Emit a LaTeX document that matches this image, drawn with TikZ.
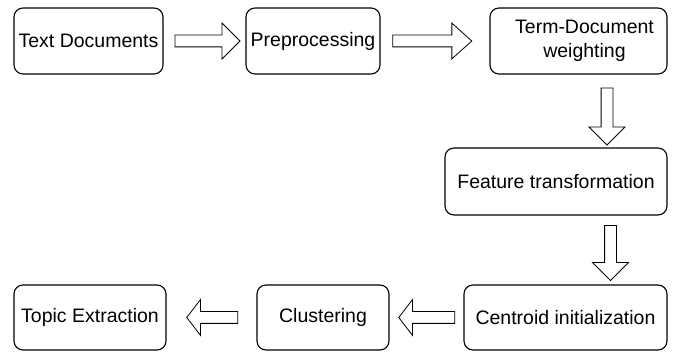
\documentclass[tikz,border=0pt]{standalone}
\usepackage{fontspec}
\setmainfont{Liberation Sans}
\usetikzlibrary{positioning, calc, shapes.arrows}

\begin{document}
\begin{tikzpicture}[x=1pt,y=1pt,font=\fontsize{19.5}{24}\selectfont]
      \tikzstyle{stage}=[draw, rounded corners=9pt, line width=1.1pt, minimum height=66pt,
                         inner sep=2pt, outer sep=0pt, align=center]
      \tikzstyle{flow}=[single arrow, draw, line width=0.8pt, inner sep=5.5pt,
                        single arrow head extend=12pt]

      \useasboundingbox (0,0) rectangle (673,-352);

      \node[stage, minimum width=149pt](txt) at (88.5,-41) {Text Documents};
      \node[stage, minimum width=134pt](pre)[right=83pt of txt] {Preprocessing};
      \node[stage, minimum width=177pt](term)[right=110pt of pre]
           {\hspace*{12pt}Term-Document\\\hspace*{12pt}weighting};
      \node[stage, minimum width=222pt, minimum height=67pt](feat)
           [below=74pt of term.south east, anchor=north east] {Feature transformation};
      \node[stage, minimum width=203pt, minimum height=65pt](cent)
           [below=70pt of feat.south east, anchor=north east] {Centroid initialization};
      \node[stage, minimum width=132pt, minimum height=65pt](clus)[left=75pt of cent] {Clustering};
      \node[stage, minimum width=152pt, minimum height=65pt](topic)[left=91pt of clus] {Topic Extraction};

      % hollow arrows between the stages
      \node[flow, minimum height=65pt](a1) at ($(txt.east)!.5!(pre.west)$) {};
      \node[flow, minimum height=79pt, single arrow tip angle=84](a2)
           at ($(pre.east)!.5!(term.west)+(-6,0)$) {};
      \node[flow, shape border rotate=270, minimum height=57pt](a3)
           at ($(term.south east)!.5!(feat.north east)+(-60,-2.5)$) {};
      \node[flow, shape border rotate=270, minimum height=55pt](a4)
           at ($(feat.south east)!.5!(cent.north east)+(-56.5,0)$) {};
      \node[flow, shape border rotate=180, minimum height=56pt, single arrow tip angle=105](a5)
           at ($(cent.west)!.5!(clus.east)+(2.5,0)$) {};
      \node[flow, shape border rotate=180, minimum height=51pt, single arrow tip angle=105](a6)
           at ($(clus.west)!.5!(topic.east)+(3,0)$) {};
\end{tikzpicture}
\end{document}
